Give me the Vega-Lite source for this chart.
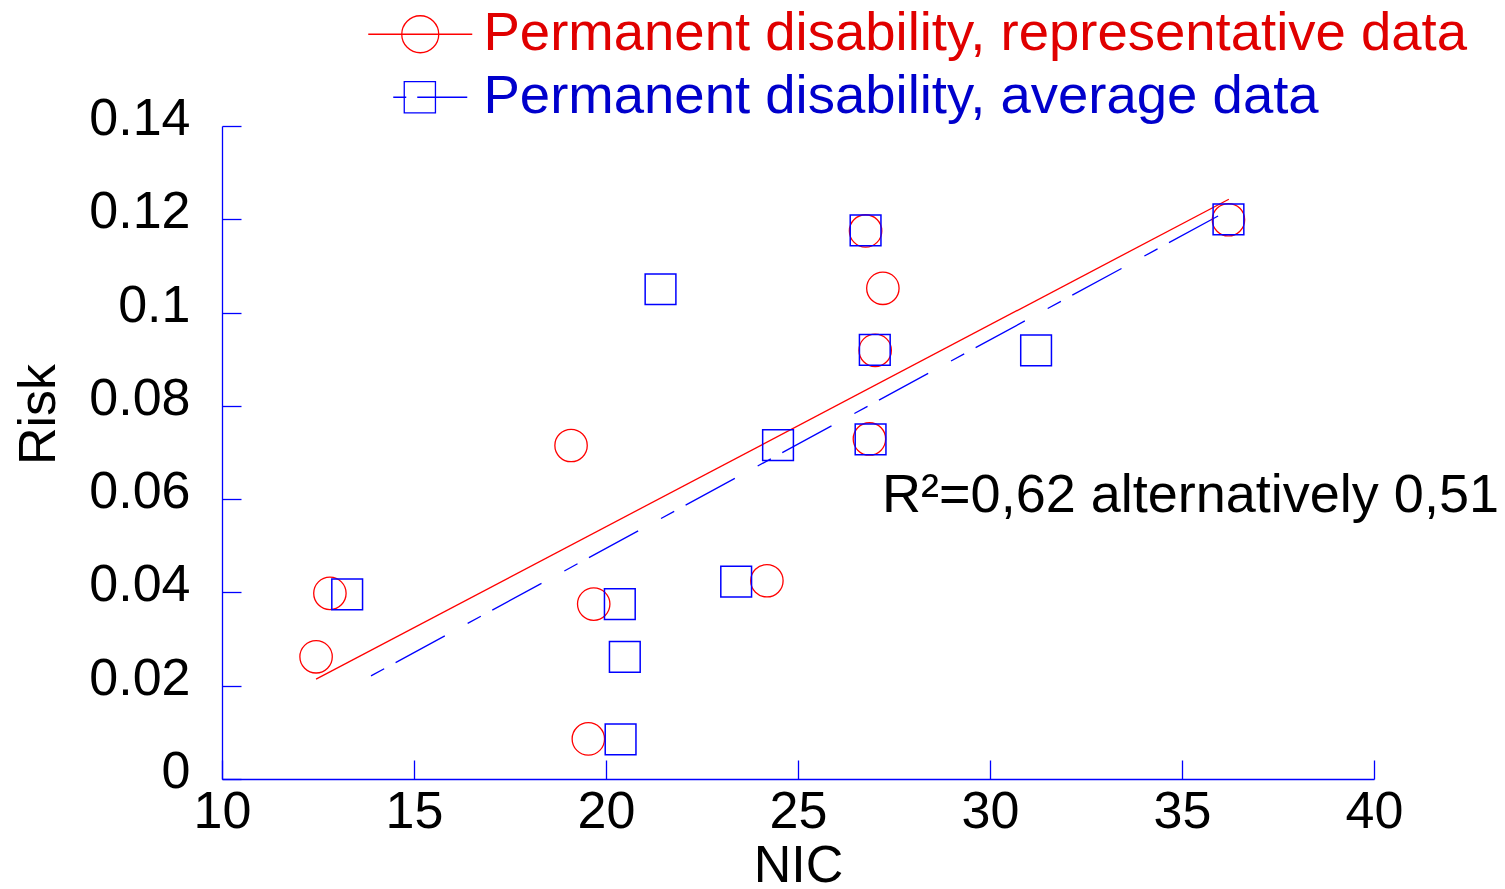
{
  "$schema": "https://vega.github.io/schema/vega-lite/v6.json",
  "width": 1152,
  "height": 653,
  "autosize": {"type": "none"},
  "padding": {"left": 222, "top": 126, "right": 131, "bottom": 110},
  "background": "white",
  "config": {
    "view": {"stroke": null},
    "font": "Liberation Sans",
    "axis": {
      "domainColor": "#0000ff",
      "tickColor": "#0000ff",
      "domainWidth": 1.3,
      "tickWidth": 1.3,
      "tickSize": -19,
      "labelFontSize": 52,
      "labelColor": "black",
      "labelFont": "Liberation Sans",
      "titleFontSize": 52,
      "titleFont": "Liberation Sans",
      "titleFontWeight": "normal",
      "titleColor": "black",
      "grid": false,
      "labelFlush": false,
      "labelOverlap": false,
      "labelBound": false
    },
    "axisX": {
      "labelPadding": 26,
      "titleY": 102,
      "titleBaseline": "alphabetic"
    },
    "axisY": {
      "labelPadding": 51,
      "labelOffset": -7.5,
      "titleX": -168,
      "titleY": 288,
      "titleAngle": -90,
      "titleAlign": "center",
      "titleBaseline": "alphabetic"
    }
  },
  "datasets": {
    "points": [
      {"series": "Permanent disability, representative data", "NIC": 12.45, "Risk": 0.0262},
      {"series": "Permanent disability, representative data", "NIC": 12.81, "Risk": 0.0398},
      {"series": "Permanent disability, representative data", "NIC": 19.09, "Risk": 0.0715},
      {"series": "Permanent disability, representative data", "NIC": 19.68, "Risk": 0.0375},
      {"series": "Permanent disability, representative data", "NIC": 19.54, "Risk": 0.0086},
      {"series": "Permanent disability, representative data", "NIC": 24.19, "Risk": 0.0425},
      {"series": "Permanent disability, representative data", "NIC": 26.76, "Risk": 0.1175},
      {"series": "Permanent disability, representative data", "NIC": 27.21, "Risk": 0.1052},
      {"series": "Permanent disability, representative data", "NIC": 27.01, "Risk": 0.0919},
      {"series": "Permanent disability, representative data", "NIC": 26.86, "Risk": 0.0729},
      {"series": "Permanent disability, representative data", "NIC": 36.21, "Risk": 0.1199},
      {"series": "Permanent disability, average data", "NIC": 13.26, "Risk": 0.0396},
      {"series": "Permanent disability, average data", "NIC": 20.36, "Risk": 0.0375},
      {"series": "Permanent disability, average data", "NIC": 20.49, "Risk": 0.0262},
      {"series": "Permanent disability, average data", "NIC": 20.38, "Risk": 0.0085},
      {"series": "Permanent disability, average data", "NIC": 21.42, "Risk": 0.105},
      {"series": "Permanent disability, average data", "NIC": 23.39, "Risk": 0.0423},
      {"series": "Permanent disability, average data", "NIC": 24.48, "Risk": 0.0716},
      {"series": "Permanent disability, average data", "NIC": 26.76, "Risk": 0.1176},
      {"series": "Permanent disability, average data", "NIC": 27.0, "Risk": 0.092},
      {"series": "Permanent disability, average data", "NIC": 26.89, "Risk": 0.0728},
      {"series": "Permanent disability, average data", "NIC": 31.2, "Risk": 0.0919},
      {"series": "Permanent disability, average data", "NIC": 36.21, "Risk": 0.12}
    ],
    "redfit": [
      {"NIC": 12.45, "Risk": 0.0214},
      {"NIC": 36.22, "Risk": 0.1243}
    ],
    "bluefit": [
      {"NIC": 13.88, "Risk": 0.0221},
      {"NIC": 35.94, "Risk": 0.1207}
    ],
    "note": [
      {"label": "R²=0,62 alternatively 0,51"}
    ]
  },
  "layer": [
    {
      "data": {"name": "redfit"},
      "mark": {"type": "line", "color": "#ff0000", "strokeWidth": 1.3},
      "encoding": {
        "x": {
          "field": "NIC",
          "type": "quantitative",
          "scale": {"domain": [10, 40], "nice": false, "zero": false},
          "axis": {"values": [10, 15, 20, 25, 30, 35, 40], "title": "NIC"}
        },
        "y": {
          "field": "Risk",
          "type": "quantitative",
          "scale": {"domain": [0, 0.14], "nice": false, "zero": true},
          "axis": {"values": [0, 0.02, 0.04, 0.06, 0.08, 0.1, 0.12, 0.14], "format": "~g", "title": "Risk"}
        }
      }
    },
    {
      "data": {"name": "bluefit"},
      "mark": {"type": "line", "color": "#0000ff", "strokeWidth": 1.3, "strokeDash": [15, 13, 56, 26]},
      "encoding": {
        "x": {"field": "NIC", "type": "quantitative", "axis": {"values": [10, 15, 20, 25, 30, 35, 40], "title": "NIC"}},
        "y": {"field": "Risk", "type": "quantitative", "axis": {"values": [0, 0.02, 0.04, 0.06, 0.08, 0.1, 0.12, 0.14], "format": "~g", "title": "Risk"}}
      }
    },
    {
      "data": {"name": "points"},
      "transform": [{"filter": "datum.series === 'Permanent disability, representative data'"}],
      "mark": {"type": "point", "shape": "circle", "filled": false, "size": 1050, "strokeWidth": 1.3, "opacity": 1},
      "encoding": {
        "x": {"field": "NIC", "type": "quantitative", "axis": {"values": [10, 15, 20, 25, 30, 35, 40], "title": "NIC"}},
        "y": {"field": "Risk", "type": "quantitative", "axis": {"values": [0, 0.02, 0.04, 0.06, 0.08, 0.1, 0.12, 0.14], "format": "~g", "title": "Risk"}},
        "color": {
          "field": "series",
          "type": "nominal",
          "scale": {
            "domain": ["Permanent disability, representative data", "Permanent disability, average data"],
            "range": ["#ff0000", "#0000ff"]
          },
          "legend": {
            "orient": "none",
            "legendX": 171,
            "legendY": -119,
            "title": null,
            "padding": 0,
            "symbolSize": 1600,
            "symbolStrokeWidth": 1.3,
            "symbolType": {"expr": "datum.value === 'Permanent disability, representative data' ? 'M-2.6,0L2.6,0M0.925,0C0.925,0.511 0.511,0.925 0,0.925C-0.511,0.925 -0.925,0.511 -0.925,0C-0.925,-0.511 -0.511,-0.925 0,-0.925C0.511,-0.925 0.925,-0.511 0.925,0Z' : 'M-1.35,0L-0.7,0M-0.15,0L2.35,0M-0.8,-0.78L0.76,-0.78L0.76,0.78L-0.8,0.78Z'"},
            "labelColor": {"expr": "datum.value === 'Permanent disability, representative data' ? '#e00000' : '#0000cc'"},
            "labelFontSize": 54.5,
            "labelFont": "Liberation Sans",
            "labelOffset": 36,
            "labelLimit": 0,
            "rowPadding": 8
          }
        }
      }
    },
    {
      "data": {"name": "points"},
      "transform": [{"filter": "datum.series === 'Permanent disability, average data'"}],
      "mark": {"type": "point", "shape": "square", "filled": false, "size": 945, "strokeWidth": 1.5, "opacity": 1},
      "encoding": {
        "x": {"field": "NIC", "type": "quantitative", "axis": {"values": [10, 15, 20, 25, 30, 35, 40], "title": "NIC"}},
        "y": {"field": "Risk", "type": "quantitative", "axis": {"values": [0, 0.02, 0.04, 0.06, 0.08, 0.1, 0.12, 0.14], "format": "~g", "title": "Risk"}},
        "color": {
          "field": "series",
          "type": "nominal",
          "scale": {
            "domain": ["Permanent disability, representative data", "Permanent disability, average data"],
            "range": ["#ff0000", "#0000ff"]
          }
        }
      }
    },
    {
      "data": {"name": "note"},
      "mark": {"type": "text", "align": "left", "baseline": "alphabetic", "fontSize": 54, "font": "Liberation Sans", "color": "black"},
      "encoding": {
        "text": {"field": "label", "type": "nominal"},
        "x": {"datum": 27.19, "type": "quantitative", "axis": {"values": [10, 15, 20, 25, 30, 35, 40], "title": "NIC"}},
        "y": {"datum": 0.0573, "type": "quantitative", "axis": {"values": [0, 0.02, 0.04, 0.06, 0.08, 0.1, 0.12, 0.14], "format": "~g", "title": "Risk"}}
      }
    }
  ]
}
